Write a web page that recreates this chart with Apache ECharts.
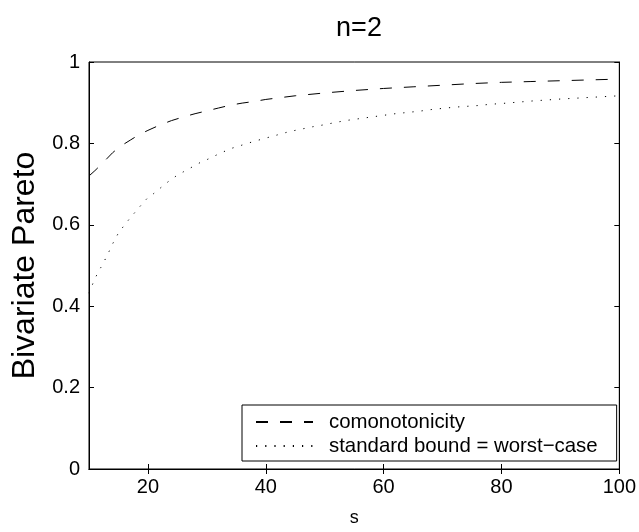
<!DOCTYPE html>
<html><head><meta charset="utf-8">
<script src="https://cdn.jsdelivr.net/npm/echarts@6/dist/echarts.min.js"></script>
<style>html,body{margin:0;padding:0;background:#fff}#c{width:639px;height:532px}</style>
</head><body><div id="c"></div>
<script>
const sComon = [10,11,12,13,14,15,16,17,18,19,20,22,24,26,28,30,32,34,36,38,40,45,50,55,60,65,70,75,80,85,90,95,100];
const comonotonicity = [0.720,0.733,0.747,0.762,0.777,0.789,0.799,0.808,0.817,0.825,0.832,0.845,0.856,0.865,0.873,0.880,0.887,0.894,0.899,0.903,0.908,0.917,0.924,0.930,0.935,0.939,0.943,0.947,0.950,0.952,0.954,0.956,0.958];
const sStd = [10,11,12,13,14,15,16,17,18,19,20,21,22,23,24,25,26,27,28,29,30,32,34,36,38,40,42,44,46,48,50,52,54,56,58,60,62,64,66,68,70,72,74,76,78,80,85,90,95,100];
const standardBound = [0.432,0.468,0.495,0.522,0.553,0.580,0.599,0.617,0.634,0.651,0.667,0.677,0.689,0.701,0.712,0.722,0.730,0.738,0.746,0.754,0.760,0.774,0.787,0.796,0.805,0.813,0.821,0.829,0.835,0.841,0.846,0.852,0.857,0.861,0.865,0.869,0.873,0.876,0.879,0.883,0.886,0.889,0.891,0.893,0.896,0.898,0.904,0.909,0.913,0.917];
const xTicks = [20,40,60,80,100];
const seriesNames = ['comonotonicity','standard bound = worst\u2212case'];

const FONT = '"Liberation Sans", Arial, Helvetica, sans-serif';
const chart = echarts.init(document.getElementById('c'), null, {renderer:'canvas'});
const zip = (xs, ys) => xs.map((x,i)=>[x, ys[i]]);
const axisLineStyle = {color:'#000', width:1};
chart.setOption({
  animation:false,
  backgroundColor:'#fff',
  title:{text:'n=2', left:354, top:10, textAlign:'center',
    textStyle:{fontFamily:FONT, fontSize:27, fontWeight:'normal', color:'#000'}},
  grid:{left:89, top:62, right:19, bottom:60, show:true, borderColor:'#000', borderWidth:1, backgroundColor:'transparent'},
  legend:{
    show:true, orient:'vertical', left:242, top:405,
    padding:[7,19,5,13], itemGap:4, itemWidth:57, itemHeight:20,
    borderColor:'#000', borderWidth:1, backgroundColor:'#fff',
    itemStyle:{opacity:0},
    textStyle:{fontFamily:FONT, fontSize:20.4, color:'#000', padding:[0,0,0,11]},
    data:seriesNames
  },
  xAxis:[{
    type:'value', min:10, max:100,
    name:'s', nameLocation:'middle', nameGap:40,
    nameTextStyle:{fontFamily:FONT, fontSize:18, color:'#000'},
    axisLine:{show:true, lineStyle:axisLineStyle},
    axisTick:{show:true, inside:true, length:5, customValues:xTicks, lineStyle:axisLineStyle},
    axisLabel:{customValues:xTicks, fontFamily:FONT, fontSize:20, color:'#000', margin:8},
    splitLine:{show:false}
  },{
    type:'value', min:10, max:100, position:'top',
    axisLine:{show:true, lineStyle:axisLineStyle},
    axisTick:{show:true, inside:true, length:5, customValues:xTicks, lineStyle:axisLineStyle},
    axisLabel:{show:false}, splitLine:{show:false}
  }],
  yAxis:[{
    type:'value', min:0, max:1, interval:0.2,
    name:'Bivariate Pareto', nameLocation:'middle', nameGap:46, nameRotate:90,
    nameTextStyle:{fontFamily:FONT, fontSize:32, color:'#000'},
    axisLine:{show:true, lineStyle:axisLineStyle},
    axisTick:{show:true, inside:true, length:5, lineStyle:axisLineStyle},
    axisLabel:{fontFamily:FONT, fontSize:20, color:'#000', margin:9},
    splitLine:{show:false}
  },{
    type:'value', min:0, max:1, interval:0.2, position:'right',
    axisLine:{show:true, lineStyle:axisLineStyle},
    axisTick:{show:true, inside:true, length:5, lineStyle:axisLineStyle},
    axisLabel:{show:false}, splitLine:{show:false}
  }],
  series:[{
    name:seriesNames[0], type:'line', data:zip(sComon, comonotonicity),
    showSymbol:false, symbol:'none', smooth:false, color:'#000',
    lineStyle:{color:'#000', width:1, type:[12,12]}
  },{
    name:seriesNames[1], type:'line', data:zip(sStd, standardBound),
    showSymbol:false, symbol:'none', smooth:false, color:'#000',
    lineStyle:{color:'#000', width:1, type:[1.2,8]}
  }]
});
</script></body></html>
